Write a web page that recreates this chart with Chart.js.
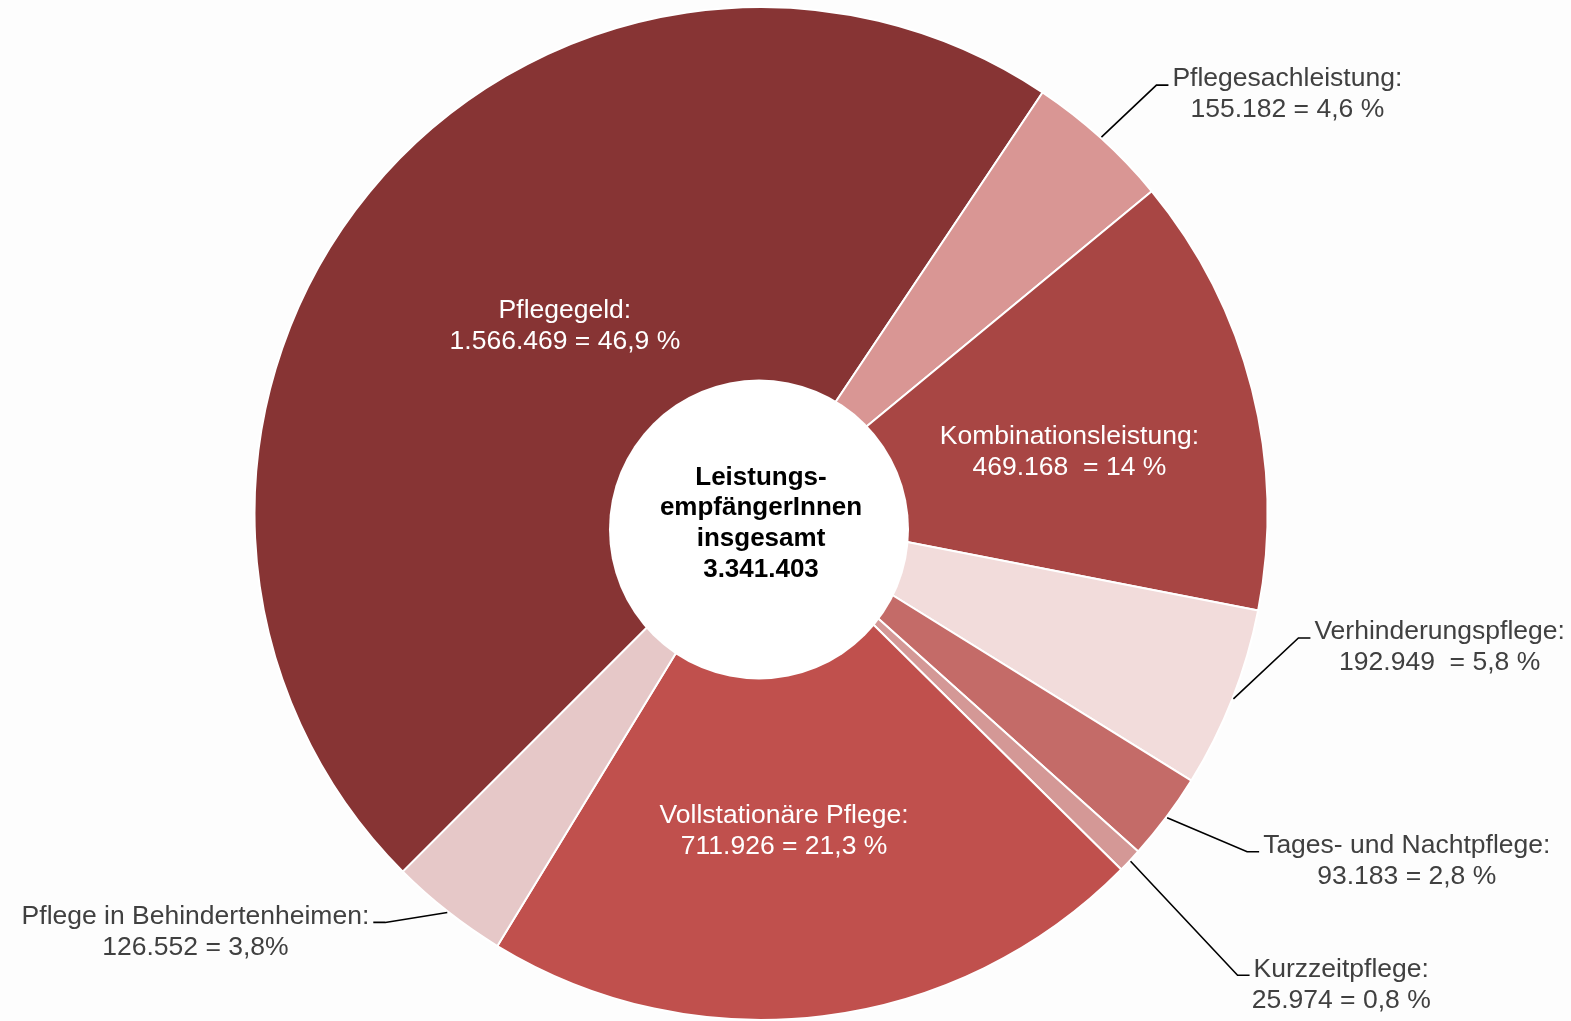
<!DOCTYPE html>
<html>
<head>
<meta charset="utf-8">
<script src="https://cdn.jsdelivr.net/npm/chart.js@4/dist/chart.umd.min.js"></script>
<style>
html, body { margin: 0; padding: 0; background: #fdfdfd; }
#wrap { width: 1571px; height: 1021px; }
</style>
</head>
<body>
<div id="wrap"><canvas id="pieChart"></canvas></div>
<script>
// Leistungsempfaenger der Pflegeversicherung nach Leistungsart
var categories  = ['Pflegegeld', 'Pflegesachleistung', 'Kombinationsleistung', 'Verhinderungspflege',
                   'Tages- und Nachtpflege', 'Kurzzeitpflege', 'Vollstationäre Pflege', 'Pflege in Behindertenheimen'];
var recipients  = [1566469, 155182, 469168, 192949, 93183, 25974, 711926, 126552];
var valueLabels = ['1.566.469 = 46,9 %', '155.182 = 4,6 %', '469.168  = 14 %', '192.949  = 5,8 %',
                   '93.183 = 2,8 %', '25.974 = 0,8 %', '711.926 = 21,3 %', '126.552 = 3,8%'];
var centerLines = ['Leistungs-', 'empfängerInnen', 'insgesamt', '3.341.403'];

var sliceColors = ['#873434', '#d99694', '#a84644', '#f2dcdb', '#c46b68', '#d49896', '#c0504d', '#e6c8c8'];

// where each label goes: inside the slice, or outside with a leader line
var labelPlacement = [
    { inside: true, r: 273, da: 4.7 },
    { dx: 55,  dy: -52, side: 1 },
    { inside: true, r: 315, da: 2.5 },
    { dx: 65,  dy: -61, side: 1 },
    { dx: 80,  dy: 34,  side: 1 },
    { dx: 107, dy: 114, side: 1 },
    { inside: true, r: 316, da: 2.8 },
    { dx: -62, dy: 10,  side: -1 }
];

var labelFont = '26.5px "Liberation Sans", Arial, sans-serif';
var lineGap = 31;

var pieLabels = {
    id: 'pieLabels',
    afterDatasetsDraw: function(chart) {
        var ctx = chart.ctx;
        var arcs = chart.getDatasetMeta(0).data;
        var cx = arcs[0].x, cy = arcs[0].y;

        // white centre disc (sits a bit below the pie centre, like the original)
        ctx.save();
        ctx.fillStyle = '#ffffff';
        ctx.beginPath();
        ctx.arc(cx - 2, cy + 16, 150, 0, Math.PI * 2);
        ctx.fill();

        ctx.fillStyle = '#000000';
        ctx.font = 'bold 26px "Liberation Sans", Arial, sans-serif';
        ctx.textAlign = 'center';
        ctx.textBaseline = 'middle';
        var top = cy + 10 - (centerLines.length - 1) * 30.7 / 2;
        centerLines.forEach(function(t, i) {
            ctx.fillText(t, cx, top + i * 30.7);
        });

        ctx.font = labelFont;
        arcs.forEach(function(arc, i) {
            var p = labelPlacement[i];
            var mid = (arc.startAngle + arc.endAngle) / 2;
            var lines = [categories[i] + ':', valueLabels[i]];
            if (p.inside) {
                var a = mid + p.da * Math.PI / 180;
                var x = cx + p.r * Math.cos(a), y = cy + p.r * Math.sin(a) + 3;
                ctx.fillStyle = '#ffffff';
                ctx.fillText(lines[0], x, y - lineGap / 2);
                ctx.fillText(lines[1], x, y + lineGap / 2);
                return;
            }
            var r0 = arc.outerRadius + 1;
            var sx = cx + r0 * Math.cos(mid), sy = cy + r0 * Math.sin(mid);
            var ex = sx + p.dx, ey = sy + p.dy;
            var hx = ex + p.side * 12;
            ctx.strokeStyle = '#000000';
            ctx.lineWidth = 1.6;
            ctx.beginPath();
            ctx.moveTo(sx, sy);
            ctx.lineTo(ex, ey);
            ctx.lineTo(hx, ey);
            ctx.stroke();

            var w1 = ctx.measureText(lines[0]).width;
            var tx = hx + p.side * (4 + w1 / 2);
            ctx.fillStyle = '#404040';
            ctx.fillText(lines[0], tx, ey - 6);
            ctx.fillText(lines[1], tx, ey - 6 + lineGap);
        });
        ctx.restore();
    }
};

var ctx = document.getElementById('pieChart').getContext('2d');
var myChart = new Chart(ctx, {
    type: 'pie',
    data: {
        labels: categories,
        datasets: [{
            data: recipients,
            backgroundColor: sliceColors,
            borderColor: '#ffffff',
            borderWidth: 2
        }]
    },
    options: {
        responsive: true,
        maintainAspectRatio: false,
        animation: false,
        rotation: -135,
        layout: { padding: { top: 6, bottom: 0, left: 0, right: 49 } },
        plugins: {
            legend: { display: false },
            tooltip: { enabled: false }
        }
    },
    plugins: [pieLabels]
});
</script>
</body>
</html>
